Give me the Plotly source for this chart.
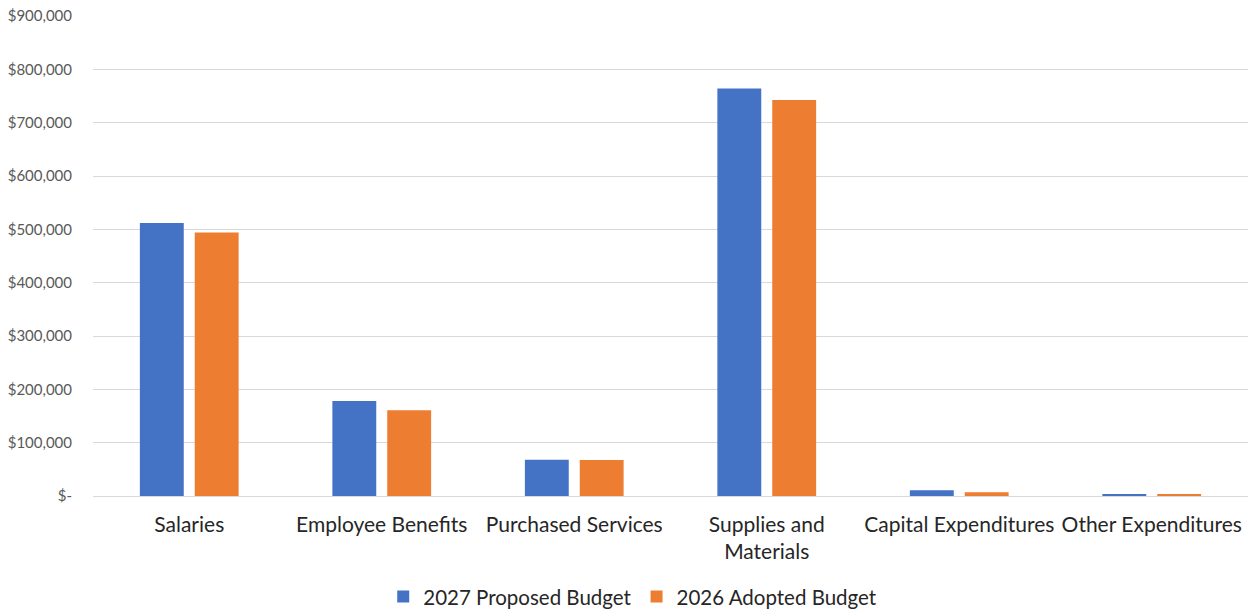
import plotly.graph_objects as go

categories = ["Salaries", "Employee Benefits", "Purchased Services",
              "Supplies and<br>Materials", "Capital Expenditures", "Other Expenditures"]
proposed_2027 = [512000, 178000, 68000, 764000, 10800, 2600]
adopted_2026 = [494000, 161000, 67500, 742500, 7000, 2200]

y_ticks = [0, 100000, 200000, 300000, 400000, 500000, 600000, 700000, 800000, 900000]
y_tick_text = ["$-", "$100,000", "$200,000", "$300,000", "$400,000", "$500,000",
               "$600,000", "$700,000", "$800,000", "$900,000"]

fig = go.Figure()
fig.add_bar(name="2027 Proposed Budget", x=categories, y=proposed_2027,
            marker=dict(color="#4472C4", line=dict(width=0)))
fig.add_bar(name="2026 Adopted Budget", x=categories, y=adopted_2026,
            marker=dict(color="#ED7D31", line=dict(width=0)))

fig.update_layout(
    width=1248, height=612,
    barmode="group", bargap=0.43, bargroupgap=0.2,
    plot_bgcolor="white", paper_bgcolor="white",
    margin=dict(l=93, r=0, t=16, b=116),
    font=dict(family="Lato, Carlito, Calibri, sans-serif", color="#595959"),
    legend=dict(orientation="h", x=0.507, xref="container", xanchor="center",
                y=0.025, yref="container", yanchor="middle",
                font=dict(size=20.5, color="#262626"), itemwidth=30,
                traceorder="normal"),
    xaxis=dict(tickfont=dict(size=21, color="#262626"), showline=False,
               ticks="", showgrid=False, ticklabelstandoff=14),
    yaxis=dict(range=[0, 900000], tickvals=y_ticks, ticktext=y_tick_text,
               tickfont=dict(size=15, color="#595959"),
               showgrid=True, gridcolor="#D9D9D9", gridwidth=1,
               zeroline=True, zerolinecolor="#D9D9D9", zerolinewidth=1,
               ticks="", ticklabelstandoff=20),
)

fig.write_html("out.html")
